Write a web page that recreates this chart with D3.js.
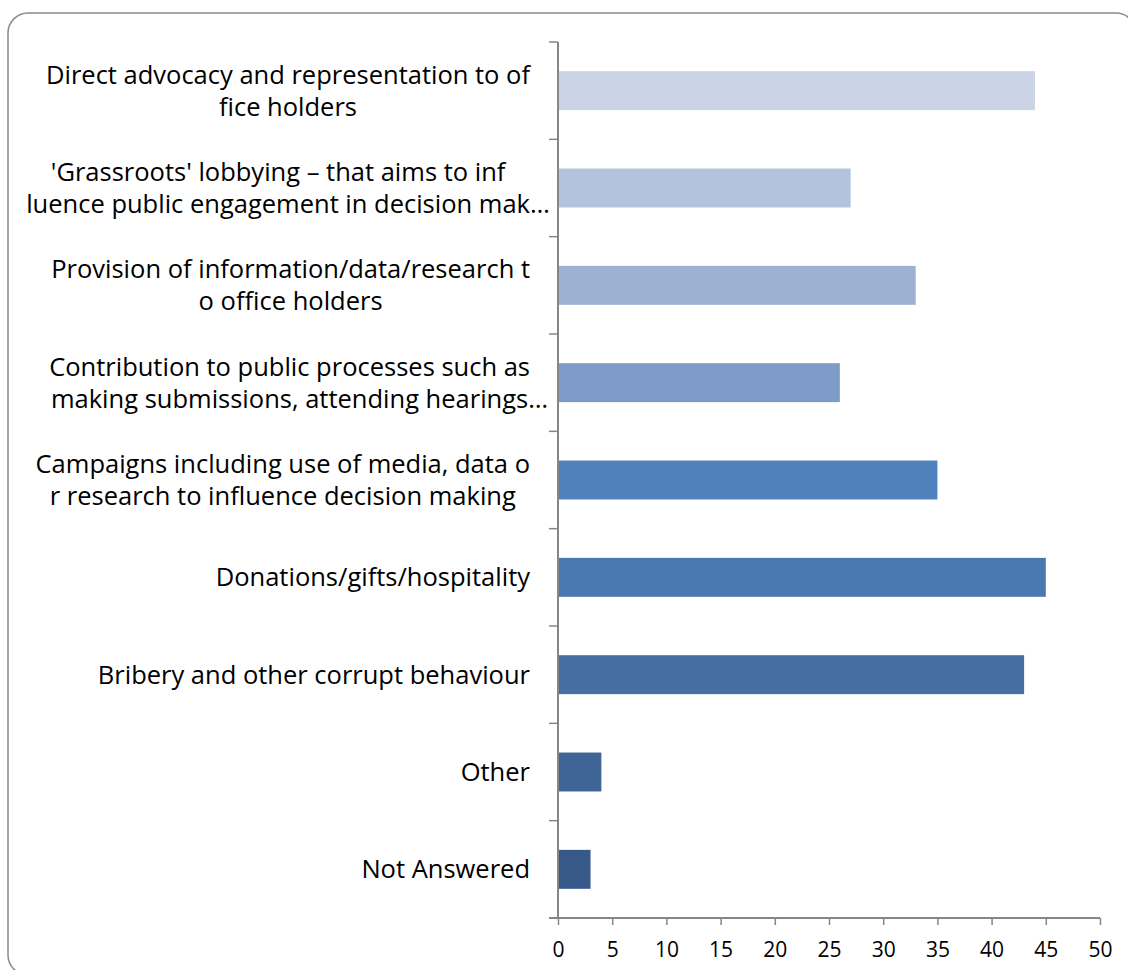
<!DOCTYPE html>
<html>
<head>
<meta charset="utf-8">
<script src="https://cdn.jsdelivr.net/npm/d3@7"></script>
<style>
  html, body { margin: 0; padding: 0; background: #fff; }
  svg { display: block; }
  text { font-family: "Open Sans", Lato, sans-serif; fill: #000; font-variant-ligatures: none; }
</style>
</head>
<body>
<svg id="chart"></svg>
<script>
// categories, wrapped the way the original shows them
var categories = [
  ["Direct advocacy and representation to of", "fice holders"],
  ["'Grassroots' lobbying \u2013 that aims to inf", "luence public engagement in decision mak\u2026"],
  ["Provision of information/data/research t", "o office holders"],
  ["Contribution to public processes such as", "making submissions, attending hearings\u2026"],
  ["Campaigns including use of media, data o", "r research to influence decision making"],
  ["Donations/gifts/hospitality"],
  ["Bribery and other corrupt behaviour"],
  ["Other"],
  ["Not Answered"]
];
var values = [44, 27, 33, 26, 35, 45, 43, 4, 3];
var xTicks = [0, 5, 10, 15, 20, 25, 30, 35, 40, 45, 50];
var barColors = ["#cad4e6", "#b3c3de", "#9db1d3", "#7f9cc8", "#4f81bd",
                 "#4a79b2", "#456fa3", "#3f6597", "#36598a"];

var width = 1128, height = 970;
var x0 = 558, x1 = 1100, yTop = 42, yBot = 918;
var labelRight = 530, lineH = 32;

var svg = d3.select('#chart')
    .attr("width", width)
    .attr("height", height);

// outer rounded frame (runs off the right/bottom edge)
svg.append("rect")
    .attr("x", 8).attr("y", 13)
    .attr("width", 1128).attr("height", 962)
    .attr("rx", 20).attr("ry", 20)
    .attr("fill", "none")
    .attr("stroke", "#8a8a8a")
    .attr("stroke-width", 1.5);

var x = d3.scaleLinear().domain([0, 50]).range([x0, x1]);
var y = d3.scaleBand().domain(d3.range(categories.length))
    .range([yTop, yBot]).paddingInner(0.6).paddingOuter(0.3);

// bars
svg.selectAll("rect.bar")
    .data(values)
    .enter().append("rect")
    .attr("class", "bar")
    .attr("x", x(0))
    .attr("y", (d, i) => y(i))
    .attr("width", d => x(d) - x(0))
    .attr("height", y.bandwidth())
    .attr("fill", (d, i) => barColors[i]);

// bottom axis
var xAxis = d3.axisBottom(x).tickValues(xTicks).tickSize(7).tickSizeOuter(0);
var gx = svg.append("g")
    .attr("transform", "translate(0," + yBot + ")")
    .call(xAxis);
gx.select(".domain").attr("stroke", "#868686").attr("stroke-width", 2)
    .attr("d", "M" + (x0 - 9) + ",0H" + x1);
gx.selectAll(".tick line").attr("stroke", "#868686").attr("stroke-width", 1.5);
gx.selectAll(".tick text")
    .attr("dy", null).attr("y", 39)
    .style("font-size", "21px")
    .style("font-family", "'Open Sans', Lato, sans-serif")
    .attr("fill", "#000");

// left axis: line plus category boundary ticks
var bandStep = (yBot - yTop) / categories.length;
var gy = svg.append("g");
gy.append("line")
    .attr("x1", x0).attr("x2", x0)
    .attr("y1", yTop).attr("y2", yBot)
    .attr("stroke", "#868686").attr("stroke-width", 2);
gy.selectAll("line.tk")
    .data(d3.range(categories.length))
    .enter().append("line")
    .attr("class", "tk")
    .attr("x1", x0 - 9).attr("x2", x0)
    .attr("y1", i => yTop + i * bandStep)
    .attr("y2", i => yTop + i * bandStep)
    .attr("stroke", "#868686").attr("stroke-width", 1.5);

// category labels
var lab = svg.append("g").style("font-size", "25.5px");
categories.forEach(function(lines, i) {
  var cy = y(i) + y.bandwidth() / 2;
  var widths = lines.map(function(s) {
    var plain = s.replace(/\u2026$/, "");
    var t = lab.append("text").text(plain);
    var w = t.node().getComputedTextLength();
    t.remove();
    return w;
  });
  var blockW = d3.max(widths);
  var cx = labelRight - blockW / 2;
  lines.forEach(function(s, j) {
    var ly = cy + (j - (lines.length - 1) / 2) * lineH;
    lab.append("text")
        .attr("x", cx - widths[j] / 2)
        .attr("y", ly)
        .attr("dy", "0.35em")
        .text(s);
  });
});
</script>
</body>
</html>
